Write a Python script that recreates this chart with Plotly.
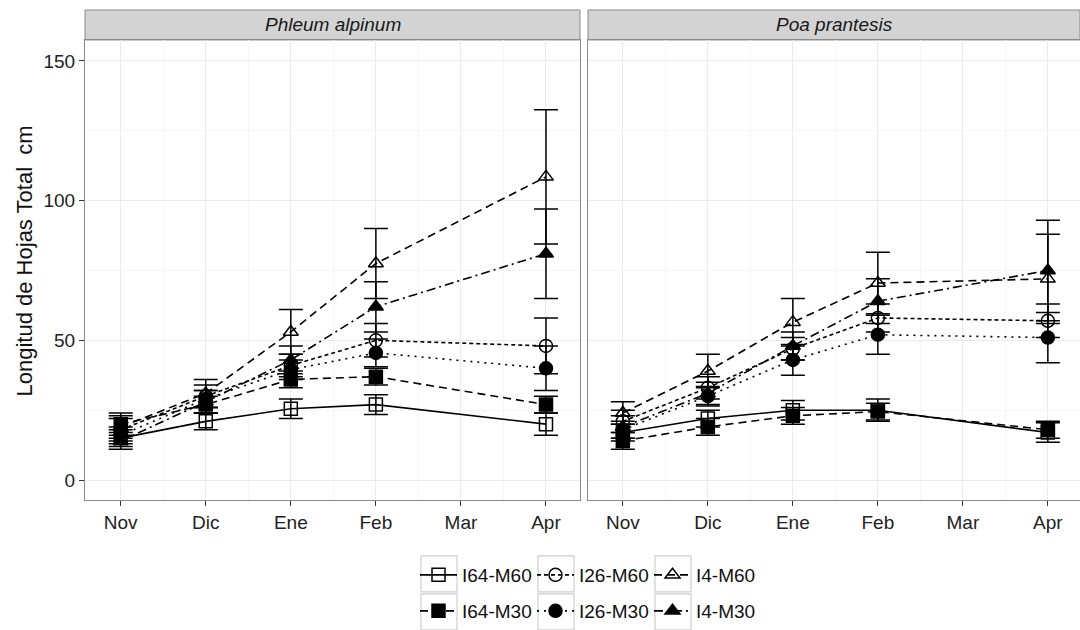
import plotly.graph_objects as go

# ---------------- data ----------------
month_ticks = ['Nov', 'Dic', 'Ene', 'Feb', 'Mar', 'Apr']
sample_months = ['Nov', 'Dic', 'Ene', 'Feb', 'Apr']
species = ['Phleum alpinum', 'Poa prantesis']
series_names = ['I64-M60', 'I26-M60', 'I4-M60', 'I64-M30', 'I26-M30', 'I4-M30']

# Phleum alpinum
pa_I64_M60 = [15, 21, 25.5, 27, 20]
pa_I26_M60 = [18, 30, 41, 50, 48]
pa_I4_M60 = [19, 31, 53, 77.5, 108.5]
pa_I64_M30 = [20, 27, 36, 37, 27]
pa_I26_M30 = [16, 29, 39.5, 45.5, 40]
pa_I4_M30 = [14, 28, 43, 62, 81]
pa_I64_M60_se = [3, 3, 3.5, 3.5, 4]
pa_I26_M60_se = [4, 4, 4, 6, 10]
pa_I4_M60_se = [4, 5, 8, 12.5, 24]
pa_I64_M30_se = [4, 3, 3, 3, 3]
pa_I26_M30_se = [3, 3, 3.5, 5, 8]
pa_I4_M30_se = [3, 4, 5, 9, 16]

# Poa prantesis
pp_I64_M60 = [17, 22, 25, 25, 17]
pp_I26_M60 = [21, 33, 47, 58, 57]
pp_I4_M60 = [24, 39, 56.5, 70.5, 72]
pp_I64_M30 = [14, 19, 23, 24.5, 18]
pp_I26_M30 = [18, 30, 43, 52, 51]
pp_I4_M30 = [19, 31, 48, 64, 75]
pp_I64_M60_se = [3, 3, 3.5, 4, 3.5]
pp_I26_M60_se = [4, 4, 4, 5, 6]
pp_I4_M60_se = [4, 6, 8.5, 11, 16]
pp_I64_M30_se = [3, 3, 3, 3, 3]
pp_I26_M30_se = [3, 3.5, 5.5, 7, 9]
pp_I4_M30_se = [4, 4, 5, 8, 18]

y_ticks = [0, 50, 100, 150]
y_title = 'Longitud de Hojas Total\u00a0 cm'

# ---------------- styling ----------------
panel_vals = {
    'Phleum alpinum': [pa_I64_M60, pa_I26_M60, pa_I4_M60, pa_I64_M30, pa_I26_M30, pa_I4_M30],
    'Poa prantesis': [pp_I64_M60, pp_I26_M60, pp_I4_M60, pp_I64_M30, pp_I26_M30, pp_I4_M30],
}
panel_se = {
    'Phleum alpinum': [pa_I64_M60_se, pa_I26_M60_se, pa_I4_M60_se, pa_I64_M30_se, pa_I26_M30_se, pa_I4_M30_se],
    'Poa prantesis': [pp_I64_M60_se, pp_I26_M60_se, pp_I4_M60_se, pp_I64_M30_se, pp_I26_M30_se, pp_I4_M30_se],
}
symbols = ['square-open', 'circle-open', 'triangle-up-open', 'square', 'circle', 'triangle-up']
dashes = ['solid', '4px,3px', '8px,5px', '8px,5px', '2px,5px', '9px,4px,2px,4px']
legends = ['legend', 'legend', 'legend', 'legend2', 'legend2', 'legend2']

x_idx = [month_ticks.index(m) for m in sample_months]

fig = go.Figure()
for p, sp in enumerate(species):
    xa = 'x' if p == 0 else 'x2'
    ya = 'y' if p == 0 else 'y2'
    for i, name in enumerate(series_names):
        fig.add_trace(go.Scatter(
            x=x_idx, y=panel_vals[sp][i], xaxis=xa, yaxis=ya,
            mode='lines+markers', name=name, legend=legends[i],
            showlegend=(p == 0), legendgroup=name,
            line=dict(color='black', width=1.6, dash=dashes[i]),
            marker=dict(symbol=symbols[i], size=13, color='black',
                        line=dict(color='black', width=1.5)),
            error_y=dict(type='data', array=panel_se[sp][i], visible=True,
                         color='black', thickness=1.5, width=12),
        ))

W, H = 1080, 630
ml, mr, mt, mb = 85, 0, 10, 129
pw = W - ml - mr
ph = H - mt - mb
left_end = (580 - ml) / pw
right_start = (588 - ml) / pw
strip_h = 30
ytop = (ph - strip_h) / ph


def px_x(v):
    return (v - ml) / pw


def px_y(v):
    return (H - mb - v) / ph


axis_common = dict(
    showline=True, linecolor='#8a8a8a', linewidth=1, mirror=True,
    showgrid=True, gridcolor='#EBEBEB', gridwidth=1, zeroline=False,
    ticks='outside', ticklen=5, tickcolor='#333333', tickwidth=1,
    tickfont=dict(family='Liberation Sans, Arial', size=19, color='#222222'),
)
xcommon = dict(axis_common, tickmode='array', tickvals=list(range(len(month_ticks))),
               ticktext=month_ticks,
               minor=dict(dtick=0.5, tick0=0, showgrid=True, gridcolor='#F6F6F6', ticks=''))
ycommon = dict(axis_common, tickmode='array', tickvals=y_ticks,
               range=[(481 - 501) / 2.8, (481 - 40) / 2.8],
               minor=dict(tickvals=[25, 75, 125], showgrid=True, gridcolor='#F6F6F6', ticks=''))

leg_common = dict(orientation='h', xanchor='left', yanchor='middle',
                  entrywidth=65, entrywidthmode='pixels', itemwidth=37,
                  font=dict(family='Liberation Sans, Arial', size=19, color='#111111'),
                  bgcolor='rgba(0,0,0,0)', tracegroupgap=0)

fig.update_layout(
    width=W, height=H,
    margin=dict(l=ml, r=mr, t=mt, b=mb),
    paper_bgcolor='white', plot_bgcolor='white',
    font=dict(family='Liberation Sans, Arial', color='#111111'),
    xaxis=dict(xcommon, domain=[0, left_end], range=[-0.42, 5.40], anchor='y'),
    xaxis2=dict(xcommon, domain=[right_start, 1], range=[-0.41, (1080 - 588) / 85 - 0.41], anchor='y2'),
    yaxis=dict(ycommon, domain=[0, ytop], anchor='x'),
    yaxis2=dict(ycommon, domain=[0, ytop], anchor='x2', matches='y', showticklabels=False, ticks=''),
    legend=dict(leg_common, x=px_x(415), y=px_y(575)),
    legend2=dict(leg_common, x=px_x(415), y=px_y(612)),
    showlegend=True,
)

# y-axis title
fig.add_annotation(xref='paper', yref='paper', x=px_x(24), y=px_y(262), text=y_title,
                   textangle=-90, showarrow=False, xanchor='center', yanchor='middle',
                   font=dict(family='Liberation Sans, Arial', size=22, color='#111111'))

# facet strips
for (x0, x1), sp in zip([(0, left_end), (right_start, 1)], species):
    fig.add_shape(type='rect', xref='paper', yref='paper', x0=x0, x1=x1, y0=ytop, y1=1,
                  fillcolor='#D3D3D3', line=dict(color='#8a8a8a', width=1), layer='below')
    fig.add_annotation(xref='paper', yref='paper', x=(x0 + x1) / 2, y=(ytop + 1) / 2,
                       text='<i>' + sp + '</i>', showarrow=False,
                       font=dict(family='Liberation Sans, Arial', size=19, color='#1a1a1a'),
                       xanchor='center', yanchor='middle')

# legend key boxes
for row_top in [557, 595]:
    for bx in [421, 538, 655]:
        fig.add_shape(type='rect', xref='paper', yref='paper',
                      x0=px_x(bx), x1=px_x(bx + 36), y0=px_y(row_top + 36), y1=px_y(row_top),
                      fillcolor='white', line=dict(color='#CFCFCF', width=1.2), layer='below')

fig.write_html('out.html')
